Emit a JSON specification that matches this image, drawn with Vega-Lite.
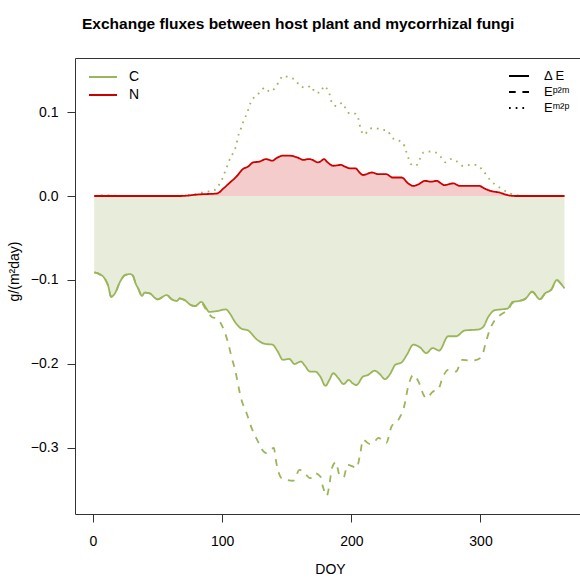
{
  "$schema": "https://vega.github.io/schema/vega-lite/v6.json",
  "autosize": {"type": "none"},
  "padding": {"left": 75, "top": 58, "right": 0, "bottom": 68},
  "width": 506,
  "height": 456,
  "background": "white",
  "title": {"text": "Exchange fluxes between host plant and mycorrhizal fungi", "anchor": "start", "frame": "group", "dx": 7, "offset": 14, "baseline": "alphabetic", "fontSize": 15.5, "fontWeight": "bold", "font": "Liberation Sans", "color": "black"},
  "config": {
    "font": "Liberation Sans",
    "view": {"stroke": "#333", "strokeWidth": 1},
    "axis": {"grid": false, "domain": false, "tickSize": 8, "tickColor": "#333", "labelColor": "black", "labelFontSize": 14, "labelFont": "Liberation Sans", "titleFont": "Liberation Sans", "titleFontSize": 14, "titleFontWeight": "normal", "titleColor": "black"},
    "legend": {"orient": "none", "padding": 0, "labelFont": "Liberation Sans", "labelFontSize": 14, "labelColor": "black", "rowPadding": 0}
  },
  "datasets": {
    "flux": [
      {"doy":1,"series":"C","type":"Δ E","value":-0.091},{"doy":5,"series":"C","type":"Δ E","value":-0.093},{"doy":9,"series":"C","type":"Δ E","value":-0.098},{"doy":12,"series":"C","type":"Δ E","value":-0.108},{"doy":14,"series":"C","type":"Δ E","value":-0.120},{"doy":17,"series":"C","type":"Δ E","value":-0.116},{"doy":21,"series":"C","type":"Δ E","value":-0.102},{"doy":25,"series":"C","type":"Δ E","value":-0.094},{"doy":29,"series":"C","type":"Δ E","value":-0.093},{"doy":31,"series":"C","type":"Δ E","value":-0.095},{"doy":33,"series":"C","type":"Δ E","value":-0.104},{"doy":35,"series":"C","type":"Δ E","value":-0.110},{"doy":38,"series":"C","type":"Δ E","value":-0.119},{"doy":40,"series":"C","type":"Δ E","value":-0.115},{"doy":44,"series":"C","type":"Δ E","value":-0.116},{"doy":50,"series":"C","type":"Δ E","value":-0.123},{"doy":57,"series":"C","type":"Δ E","value":-0.118},{"doy":61,"series":"C","type":"Δ E","value":-0.123},{"doy":65,"series":"C","type":"Δ E","value":-0.125},{"doy":67,"series":"C","type":"Δ E","value":-0.122},{"doy":71,"series":"C","type":"Δ E","value":-0.124},{"doy":76,"series":"C","type":"Δ E","value":-0.130},{"doy":79,"series":"C","type":"Δ E","value":-0.131},{"doy":84,"series":"C","type":"Δ E","value":-0.126},{"doy":87,"series":"C","type":"Δ E","value":-0.132},{"doy":90,"series":"C","type":"Δ E","value":-0.138},{"doy":96,"series":"C","type":"Δ E","value":-0.137},{"doy":103,"series":"C","type":"Δ E","value":-0.135},{"doy":106,"series":"C","type":"Δ E","value":-0.140},{"doy":110,"series":"C","type":"Δ E","value":-0.150},{"doy":115,"series":"C","type":"Δ E","value":-0.158},{"doy":120,"series":"C","type":"Δ E","value":-0.160},{"doy":127,"series":"C","type":"Δ E","value":-0.171},{"doy":133,"series":"C","type":"Δ E","value":-0.176},{"doy":139,"series":"C","type":"Δ E","value":-0.177},{"doy":143,"series":"C","type":"Δ E","value":-0.185},{"doy":147,"series":"C","type":"Δ E","value":-0.195},{"doy":152,"series":"C","type":"Δ E","value":-0.194},{"doy":156,"series":"C","type":"Δ E","value":-0.200},{"doy":161,"series":"C","type":"Δ E","value":-0.197},{"doy":164,"series":"C","type":"Δ E","value":-0.202},{"doy":168,"series":"C","type":"Δ E","value":-0.209},{"doy":172,"series":"C","type":"Δ E","value":-0.209},{"doy":176,"series":"C","type":"Δ E","value":-0.215},{"doy":180,"series":"C","type":"Δ E","value":-0.226},{"doy":183,"series":"C","type":"Δ E","value":-0.219},{"doy":186,"series":"C","type":"Δ E","value":-0.211},{"doy":190,"series":"C","type":"Δ E","value":-0.217},{"doy":194,"series":"C","type":"Δ E","value":-0.224},{"doy":198,"series":"C","type":"Δ E","value":-0.219},{"doy":201,"series":"C","type":"Δ E","value":-0.223},{"doy":204,"series":"C","type":"Δ E","value":-0.225},{"doy":209,"series":"C","type":"Δ E","value":-0.215},{"doy":213,"series":"C","type":"Δ E","value":-0.213},{"doy":218,"series":"C","type":"Δ E","value":-0.208},{"doy":222,"series":"C","type":"Δ E","value":-0.212},{"doy":226,"series":"C","type":"Δ E","value":-0.218},{"doy":230,"series":"C","type":"Δ E","value":-0.212},{"doy":234,"series":"C","type":"Δ E","value":-0.201},{"doy":239,"series":"C","type":"Δ E","value":-0.198},{"doy":243,"series":"C","type":"Δ E","value":-0.189},{"doy":248,"series":"C","type":"Δ E","value":-0.177},{"doy":253,"series":"C","type":"Δ E","value":-0.180},{"doy":258,"series":"C","type":"Δ E","value":-0.187},{"doy":263,"series":"C","type":"Δ E","value":-0.181},{"doy":268,"series":"C","type":"Δ E","value":-0.184},{"doy":275,"series":"C","type":"Δ E","value":-0.167},{"doy":281,"series":"C","type":"Δ E","value":-0.167},{"doy":288,"series":"C","type":"Δ E","value":-0.160},{"doy":298,"series":"C","type":"Δ E","value":-0.159},{"doy":302,"series":"C","type":"Δ E","value":-0.156},{"doy":306,"series":"C","type":"Δ E","value":-0.144},{"doy":311,"series":"C","type":"Δ E","value":-0.136},{"doy":316,"series":"C","type":"Δ E","value":-0.135},{"doy":321,"series":"C","type":"Δ E","value":-0.134},{"doy":325,"series":"C","type":"Δ E","value":-0.126},{"doy":330,"series":"C","type":"Δ E","value":-0.125},{"doy":335,"series":"C","type":"Δ E","value":-0.122},{"doy":340,"series":"C","type":"Δ E","value":-0.114},{"doy":346,"series":"C","type":"Δ E","value":-0.123},{"doy":350,"series":"C","type":"Δ E","value":-0.116},{"doy":355,"series":"C","type":"Δ E","value":-0.111},{"doy":359,"series":"C","type":"Δ E","value":-0.100},{"doy":362,"series":"C","type":"Δ E","value":-0.104},{"doy":365,"series":"C","type":"Δ E","value":-0.110},

      {"doy":1,"series":"C","type":"Eᵖ²ᵐ","value":-0.091},{"doy":5,"series":"C","type":"Eᵖ²ᵐ","value":-0.093},{"doy":9,"series":"C","type":"Eᵖ²ᵐ","value":-0.098},{"doy":12,"series":"C","type":"Eᵖ²ᵐ","value":-0.108},{"doy":14,"series":"C","type":"Eᵖ²ᵐ","value":-0.120},{"doy":17,"series":"C","type":"Eᵖ²ᵐ","value":-0.116},{"doy":21,"series":"C","type":"Eᵖ²ᵐ","value":-0.102},{"doy":25,"series":"C","type":"Eᵖ²ᵐ","value":-0.094},{"doy":29,"series":"C","type":"Eᵖ²ᵐ","value":-0.093},{"doy":31,"series":"C","type":"Eᵖ²ᵐ","value":-0.095},{"doy":33,"series":"C","type":"Eᵖ²ᵐ","value":-0.104},{"doy":35,"series":"C","type":"Eᵖ²ᵐ","value":-0.110},{"doy":38,"series":"C","type":"Eᵖ²ᵐ","value":-0.119},{"doy":40,"series":"C","type":"Eᵖ²ᵐ","value":-0.115},{"doy":44,"series":"C","type":"Eᵖ²ᵐ","value":-0.116},{"doy":50,"series":"C","type":"Eᵖ²ᵐ","value":-0.123},{"doy":57,"series":"C","type":"Eᵖ²ᵐ","value":-0.118},{"doy":61,"series":"C","type":"Eᵖ²ᵐ","value":-0.123},{"doy":65,"series":"C","type":"Eᵖ²ᵐ","value":-0.125},{"doy":67,"series":"C","type":"Eᵖ²ᵐ","value":-0.122},{"doy":71,"series":"C","type":"Eᵖ²ᵐ","value":-0.124},{"doy":76,"series":"C","type":"Eᵖ²ᵐ","value":-0.130},{"doy":79,"series":"C","type":"Eᵖ²ᵐ","value":-0.131},{"doy":84,"series":"C","type":"Eᵖ²ᵐ","value":-0.127},{"doy":87,"series":"C","type":"Eᵖ²ᵐ","value":-0.134},{"doy":92,"series":"C","type":"Eᵖ²ᵐ","value":-0.144},{"doy":96,"series":"C","type":"Eᵖ²ᵐ","value":-0.146},{"doy":101,"series":"C","type":"Eᵖ²ᵐ","value":-0.158},{"doy":105,"series":"C","type":"Eᵖ²ᵐ","value":-0.177},{"doy":107,"series":"C","type":"Eᵖ²ᵐ","value":-0.190},{"doy":110,"series":"C","type":"Eᵖ²ᵐ","value":-0.207},{"doy":115,"series":"C","type":"Eᵖ²ᵐ","value":-0.243},{"doy":119,"series":"C","type":"Eᵖ²ᵐ","value":-0.259},{"doy":123,"series":"C","type":"Eᵖ²ᵐ","value":-0.277},{"doy":127,"series":"C","type":"Eᵖ²ᵐ","value":-0.290},{"doy":132,"series":"C","type":"Eᵖ²ᵐ","value":-0.304},{"doy":134,"series":"C","type":"Eᵖ²ᵐ","value":-0.306},{"doy":140,"series":"C","type":"Eᵖ²ᵐ","value":-0.300},{"doy":142,"series":"C","type":"Eᵖ²ᵐ","value":-0.318},{"doy":146,"series":"C","type":"Eᵖ²ᵐ","value":-0.336},{"doy":150,"series":"C","type":"Eᵖ²ᵐ","value":-0.338},{"doy":155,"series":"C","type":"Eᵖ²ᵐ","value":-0.339},{"doy":160,"series":"C","type":"Eᵖ²ᵐ","value":-0.326},{"doy":165,"series":"C","type":"Eᵖ²ᵐ","value":-0.332},{"doy":168,"series":"C","type":"Eᵖ²ᵐ","value":-0.336},{"doy":172,"series":"C","type":"Eᵖ²ᵐ","value":-0.330},{"doy":176,"series":"C","type":"Eᵖ²ᵐ","value":-0.334},{"doy":178,"series":"C","type":"Eᵖ²ᵐ","value":-0.346},{"doy":181,"series":"C","type":"Eᵖ²ᵐ","value":-0.357},{"doy":183,"series":"C","type":"Eᵖ²ᵐ","value":-0.344},{"doy":185,"series":"C","type":"Eᵖ²ᵐ","value":-0.324},{"doy":188,"series":"C","type":"Eᵖ²ᵐ","value":-0.317},{"doy":191,"series":"C","type":"Eᵖ²ᵐ","value":-0.333},{"doy":194,"series":"C","type":"Eᵖ²ᵐ","value":-0.335},{"doy":197,"series":"C","type":"Eᵖ²ᵐ","value":-0.320},{"doy":201,"series":"C","type":"Eᵖ²ᵐ","value":-0.322},{"doy":204,"series":"C","type":"Eᵖ²ᵐ","value":-0.324},{"doy":207,"series":"C","type":"Eᵖ²ᵐ","value":-0.306},{"doy":209,"series":"C","type":"Eᵖ²ᵐ","value":-0.290},{"doy":214,"series":"C","type":"Eᵖ²ᵐ","value":-0.295},{"doy":217,"series":"C","type":"Eᵖ²ᵐ","value":-0.294},{"doy":221,"series":"C","type":"Eᵖ²ᵐ","value":-0.288},{"doy":227,"series":"C","type":"Eᵖ²ᵐ","value":-0.294},{"doy":231,"series":"C","type":"Eᵖ²ᵐ","value":-0.275},{"doy":237,"series":"C","type":"Eᵖ²ᵐ","value":-0.265},{"doy":241,"series":"C","type":"Eᵖ²ᵐ","value":-0.250},{"doy":244,"series":"C","type":"Eᵖ²ᵐ","value":-0.227},{"doy":248,"series":"C","type":"Eᵖ²ᵐ","value":-0.213},{"doy":252,"series":"C","type":"Eᵖ²ᵐ","value":-0.221},{"doy":256,"series":"C","type":"Eᵖ²ᵐ","value":-0.237},{"doy":258,"series":"C","type":"Eᵖ²ᵐ","value":-0.241},{"doy":263,"series":"C","type":"Eᵖ²ᵐ","value":-0.233},{"doy":267,"series":"C","type":"Eᵖ²ᵐ","value":-0.231},{"doy":271,"series":"C","type":"Eᵖ²ᵐ","value":-0.215},{"doy":275,"series":"C","type":"Eᵖ²ᵐ","value":-0.207},{"doy":281,"series":"C","type":"Eᵖ²ᵐ","value":-0.209},{"doy":286,"series":"C","type":"Eᵖ²ᵐ","value":-0.195},{"doy":292,"series":"C","type":"Eᵖ²ᵐ","value":-0.196},{"doy":297,"series":"C","type":"Eᵖ²ᵐ","value":-0.195},{"doy":301,"series":"C","type":"Eᵖ²ᵐ","value":-0.191},{"doy":304,"series":"C","type":"Eᵖ²ᵐ","value":-0.175},{"doy":307,"series":"C","type":"Eᵖ²ᵐ","value":-0.160},{"doy":311,"series":"C","type":"Eᵖ²ᵐ","value":-0.148},{"doy":315,"series":"C","type":"Eᵖ²ᵐ","value":-0.142},{"doy":319,"series":"C","type":"Eᵖ²ᵐ","value":-0.138},{"doy":321,"series":"C","type":"Eᵖ²ᵐ","value":-0.136},{"doy":325,"series":"C","type":"Eᵖ²ᵐ","value":-0.127},{"doy":330,"series":"C","type":"Eᵖ²ᵐ","value":-0.125},{"doy":335,"series":"C","type":"Eᵖ²ᵐ","value":-0.122},{"doy":340,"series":"C","type":"Eᵖ²ᵐ","value":-0.114},{"doy":346,"series":"C","type":"Eᵖ²ᵐ","value":-0.123},{"doy":350,"series":"C","type":"Eᵖ²ᵐ","value":-0.116},{"doy":355,"series":"C","type":"Eᵖ²ᵐ","value":-0.111},{"doy":359,"series":"C","type":"Eᵖ²ᵐ","value":-0.100},{"doy":362,"series":"C","type":"Eᵖ²ᵐ","value":-0.104},{"doy":365,"series":"C","type":"Eᵖ²ᵐ","value":-0.110},

      {"doy":1,"series":"C","type":"Eᵐ²ᵖ","value":0.000},{"doy":10,"series":"C","type":"Eᵐ²ᵖ","value":0.001},{"doy":20,"series":"C","type":"Eᵐ²ᵖ","value":0.000},{"doy":40,"series":"C","type":"Eᵐ²ᵖ","value":0.000},{"doy":60,"series":"C","type":"Eᵐ²ᵖ","value":0.000},{"doy":75,"series":"C","type":"Eᵐ²ᵖ","value":0.001},{"doy":82,"series":"C","type":"Eᵐ²ᵖ","value":0.003},{"doy":87,"series":"C","type":"Eᵐ²ᵖ","value":0.005},{"doy":93,"series":"C","type":"Eᵐ²ᵖ","value":0.006},{"doy":97,"series":"C","type":"Eᵐ²ᵖ","value":0.012},{"doy":100,"series":"C","type":"Eᵐ²ᵖ","value":0.020},{"doy":102,"series":"C","type":"Eᵐ²ᵖ","value":0.028},{"doy":104,"series":"C","type":"Eᵐ²ᵖ","value":0.036},{"doy":106,"series":"C","type":"Eᵐ²ᵖ","value":0.044},{"doy":109,"series":"C","type":"Eᵐ²ᵖ","value":0.053},{"doy":111,"series":"C","type":"Eᵐ²ᵖ","value":0.061},{"doy":112,"series":"C","type":"Eᵐ²ᵖ","value":0.069},{"doy":114,"series":"C","type":"Eᵐ²ᵖ","value":0.078},{"doy":116,"series":"C","type":"Eᵐ²ᵖ","value":0.087},{"doy":118,"series":"C","type":"Eᵐ²ᵖ","value":0.094},{"doy":120,"series":"C","type":"Eᵐ²ᵖ","value":0.102},{"doy":122,"series":"C","type":"Eᵐ²ᵖ","value":0.111},{"doy":125,"series":"C","type":"Eᵐ²ᵖ","value":0.118},{"doy":129,"series":"C","type":"Eᵐ²ᵖ","value":0.123},{"doy":133,"series":"C","type":"Eᵐ²ᵖ","value":0.129},{"doy":137,"series":"C","type":"Eᵐ²ᵖ","value":0.124},{"doy":141,"series":"C","type":"Eᵐ²ᵖ","value":0.129},{"doy":144,"series":"C","type":"Eᵐ²ᵖ","value":0.136},{"doy":147,"series":"C","type":"Eᵐ²ᵖ","value":0.143},{"doy":152,"series":"C","type":"Eᵐ²ᵖ","value":0.141},{"doy":157,"series":"C","type":"Eᵐ²ᵖ","value":0.138},{"doy":160,"series":"C","type":"Eᵐ²ᵖ","value":0.131},{"doy":165,"series":"C","type":"Eᵐ²ᵖ","value":0.129},{"doy":169,"series":"C","type":"Eᵐ²ᵖ","value":0.131},{"doy":172,"series":"C","type":"Eᵐ²ᵖ","value":0.123},{"doy":176,"series":"C","type":"Eᵐ²ᵖ","value":0.123},{"doy":179,"series":"C","type":"Eᵐ²ᵖ","value":0.131},{"doy":182,"series":"C","type":"Eᵐ²ᵖ","value":0.125},{"doy":184,"series":"C","type":"Eᵐ²ᵖ","value":0.117},{"doy":185,"series":"C","type":"Eᵐ²ᵖ","value":0.110},{"doy":189,"series":"C","type":"Eᵐ²ᵖ","value":0.107},{"doy":193,"series":"C","type":"Eᵐ²ᵖ","value":0.111},{"doy":196,"series":"C","type":"Eᵐ²ᵖ","value":0.103},{"doy":199,"series":"C","type":"Eᵐ²ᵖ","value":0.098},{"doy":203,"series":"C","type":"Eᵐ²ᵖ","value":0.098},{"doy":206,"series":"C","type":"Eᵐ²ᵖ","value":0.089},{"doy":207,"series":"C","type":"Eᵐ²ᵖ","value":0.081},{"doy":210,"series":"C","type":"Eᵐ²ᵖ","value":0.073},{"doy":214,"series":"C","type":"Eᵐ²ᵖ","value":0.080},{"doy":218,"series":"C","type":"Eᵐ²ᵖ","value":0.081},{"doy":223,"series":"C","type":"Eᵐ²ᵖ","value":0.079},{"doy":228,"series":"C","type":"Eᵐ²ᵖ","value":0.078},{"doy":231,"series":"C","type":"Eᵐ²ᵖ","value":0.070},{"doy":235,"series":"C","type":"Eᵐ²ᵖ","value":0.067},{"doy":240,"series":"C","type":"Eᵐ²ᵖ","value":0.063},{"doy":242,"series":"C","type":"Eᵐ²ᵖ","value":0.055},{"doy":244,"series":"C","type":"Eᵐ²ᵖ","value":0.046},{"doy":246,"series":"C","type":"Eᵐ²ᵖ","value":0.038},{"doy":250,"series":"C","type":"Eᵐ²ᵖ","value":0.036},{"doy":253,"series":"C","type":"Eᵐ²ᵖ","value":0.044},{"doy":256,"series":"C","type":"Eᵐ²ᵖ","value":0.052},{"doy":261,"series":"C","type":"Eᵐ²ᵖ","value":0.053},{"doy":265,"series":"C","type":"Eᵐ²ᵖ","value":0.052},{"doy":269,"series":"C","type":"Eᵐ²ᵖ","value":0.047},{"doy":273,"series":"C","type":"Eᵐ²ᵖ","value":0.040},{"doy":277,"series":"C","type":"Eᵐ²ᵖ","value":0.044},{"doy":281,"series":"C","type":"Eᵐ²ᵖ","value":0.042},{"doy":286,"series":"C","type":"Eᵐ²ᵖ","value":0.036},{"doy":292,"series":"C","type":"Eᵐ²ᵖ","value":0.037},{"doy":297,"series":"C","type":"Eᵐ²ᵖ","value":0.037},{"doy":301,"series":"C","type":"Eᵐ²ᵖ","value":0.032},{"doy":305,"series":"C","type":"Eᵐ²ᵖ","value":0.024},{"doy":308,"series":"C","type":"Eᵐ²ᵖ","value":0.018},{"doy":313,"series":"C","type":"Eᵐ²ᵖ","value":0.012},{"doy":318,"series":"C","type":"Eᵐ²ᵖ","value":0.007},{"doy":323,"series":"C","type":"Eᵐ²ᵖ","value":0.003},{"doy":328,"series":"C","type":"Eᵐ²ᵖ","value":0.001},{"doy":335,"series":"C","type":"Eᵐ²ᵖ","value":0.000},{"doy":365,"series":"C","type":"Eᵐ²ᵖ","value":0.000},

      {"doy":1,"series":"N","type":"Δ E","value":0.000},{"doy":67,"series":"N","type":"Δ E","value":0.000},{"doy":83,"series":"N","type":"Δ E","value":0.002},{"doy":96,"series":"N","type":"Δ E","value":0.003},{"doy":101,"series":"N","type":"Δ E","value":0.009},{"doy":106,"series":"N","type":"Δ E","value":0.016},{"doy":111,"series":"N","type":"Δ E","value":0.023},{"doy":116,"series":"N","type":"Δ E","value":0.032},{"doy":120,"series":"N","type":"Δ E","value":0.035},{"doy":124,"series":"N","type":"Δ E","value":0.040},{"doy":129,"series":"N","type":"Δ E","value":0.041},{"doy":134,"series":"N","type":"Δ E","value":0.044},{"doy":139,"series":"N","type":"Δ E","value":0.042},{"doy":142,"series":"N","type":"Δ E","value":0.045},{"doy":147,"series":"N","type":"Δ E","value":0.048},{"doy":152,"series":"N","type":"Δ E","value":0.048},{"doy":158,"series":"N","type":"Δ E","value":0.046},{"doy":163,"series":"N","type":"Δ E","value":0.043},{"doy":167,"series":"N","type":"Δ E","value":0.044},{"doy":170,"series":"N","type":"Δ E","value":0.043},{"doy":174,"series":"N","type":"Δ E","value":0.040},{"doy":176,"series":"N","type":"Δ E","value":0.041},{"doy":179,"series":"N","type":"Δ E","value":0.044},{"doy":181,"series":"N","type":"Δ E","value":0.041},{"doy":186,"series":"N","type":"Δ E","value":0.036},{"doy":192,"series":"N","type":"Δ E","value":0.037},{"doy":195,"series":"N","type":"Δ E","value":0.035},{"doy":199,"series":"N","type":"Δ E","value":0.033},{"doy":203,"series":"N","type":"Δ E","value":0.033},{"doy":207,"series":"N","type":"Δ E","value":0.027},{"doy":209,"series":"N","type":"Δ E","value":0.025},{"doy":216,"series":"N","type":"Δ E","value":0.028},{"doy":221,"series":"N","type":"Δ E","value":0.026},{"doy":227,"series":"N","type":"Δ E","value":0.026},{"doy":232,"series":"N","type":"Δ E","value":0.022},{"doy":239,"series":"N","type":"Δ E","value":0.022},{"doy":244,"series":"N","type":"Δ E","value":0.015},{"doy":248,"series":"N","type":"Δ E","value":0.012},{"doy":252,"series":"N","type":"Δ E","value":0.014},{"doy":257,"series":"N","type":"Δ E","value":0.018},{"doy":262,"series":"N","type":"Δ E","value":0.017},{"doy":266,"series":"N","type":"Δ E","value":0.018},{"doy":272,"series":"N","type":"Δ E","value":0.013},{"doy":279,"series":"N","type":"Δ E","value":0.015},{"doy":284,"series":"N","type":"Δ E","value":0.012},{"doy":292,"series":"N","type":"Δ E","value":0.012},{"doy":299,"series":"N","type":"Δ E","value":0.012},{"doy":303,"series":"N","type":"Δ E","value":0.009},{"doy":308,"series":"N","type":"Δ E","value":0.006},{"doy":315,"series":"N","type":"Δ E","value":0.004},{"doy":321,"series":"N","type":"Δ E","value":0.001},{"doy":327,"series":"N","type":"Δ E","value":0.000},{"doy":365,"series":"N","type":"Δ E","value":0.000}
    ]
  },
  "data": {"name": "flux"},
  "encoding": {
    "x": {"field": "doy", "type": "quantitative", "scale": {"domain": [-13.9, 377.8], "nice": false, "zero": false},
      "axis": {"title": "DOY", "values": [0, 100, 200, 300], "labelPadding": 12, "titleY": 59, "titleX": 255, "titleBaseline": "alphabetic", "titleAlign": "center"}},
    "y": {"field": "value", "type": "quantitative", "scale": {"domain": [-0.3786, 0.1643], "nice": false, "zero": false},
      "axis": {"title": "g/(m²day)", "values": [-0.3, -0.2, -0.1, 0, 0.1], "format": ".1f", "labelPadding": 9, "titleX": -61, "titleY": 213, "titleAngle": -90, "titleAlign": "center", "titleBaseline": "middle"}}
  },
  "layer": [
    {
      "transform": [{"filter": "datum.type === 'Δ E'"}],
      "mark": {"type": "area", "interpolate": "monotone"},
      "encoding": {
        "y2": {"datum": 0},
        "fill": {"field": "series", "type": "nominal", "scale": {"domain": ["N", "C"], "range": ["#F5CCCC", "#E8EDDB"]}, "legend": null}
      }
    },
    {
      "data": {"values": [{}]},
      "mark": {"type": "rule", "color": "#666", "strokeWidth": 1.5},
      "encoding": {"x": null, "y": {"datum": 0}}
    },
    {
      "mark": {"type": "line", "strokeWidth": 1.8, "strokeCap": "butt", "interpolate": "monotone"},
      "encoding": {
        "color": {"field": "series", "type": "nominal", "scale": {"domain": ["C", "N"], "range": ["#9BB55A", "#CD0000"]},
          "legend": {"orient": "none", "title": null, "legendX": 13, "legendY": 10, "symbolType": "stroke", "symbolSize": 784, "symbolStrokeWidth": 2, "labelOffset": 11, "clipHeight": 18}},
        "strokeDash": {"field": "type", "type": "nominal", "scale": {"domain": ["Δ E", "Eᵖ²ᵐ", "Eᵐ²ᵖ"], "range": [[1, 0], [6.7, 6.7], [1.7, 5]]},
          "legend": {"orient": "none", "title": null, "legendX": 433, "legendY": 10, "symbolType": "stroke", "symbolSize": 400, "symbolStrokeWidth": 2, "symbolStrokeColor": "black", "labelOffset": 14, "labelFontSize": 13, "clipHeight": 16}}
      }
    }
  ]
}
